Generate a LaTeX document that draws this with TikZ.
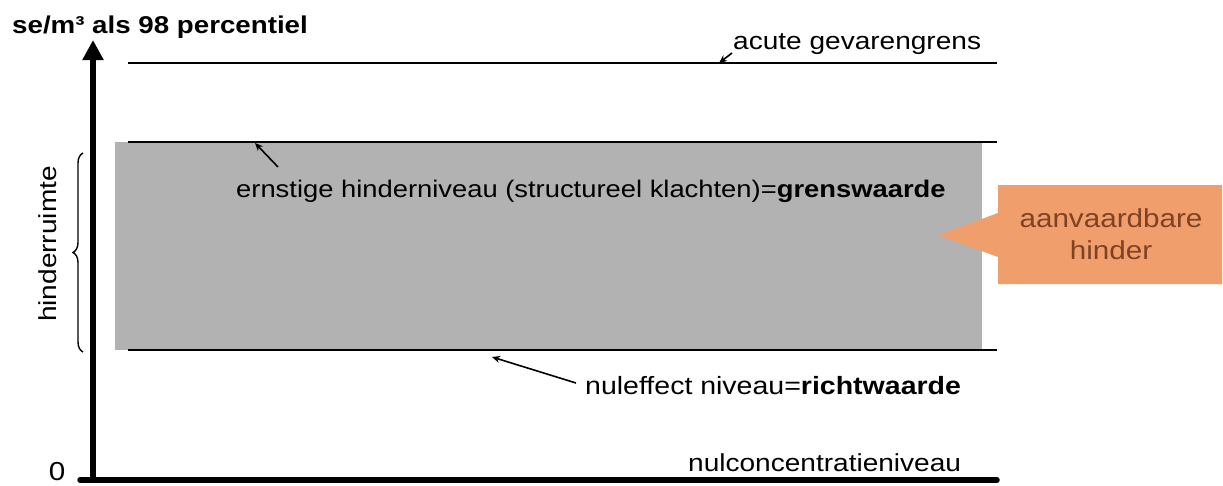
\documentclass[tikz,border=0pt]{standalone}
\usepackage{fontspec}
\setmainfont{Liberation Sans}[FakeStretch=1.14]
\usetikzlibrary{arrows.meta,decorations.pathreplacing}
\definecolor{bandgray}{RGB}{178,178,178}
\definecolor{calloutfill}{RGB}{240,158,108}
\definecolor{callouttext}{RGB}{128,66,36}
\begin{document}
\begin{tikzpicture}[x=1pt,y=-1pt,
  lbl/.style={inner sep=0pt, font=\fontsize{24.6}{28}\selectfont},
  level/.style={line width=2pt},
  axis/.style={line width=5.5pt},
  pointer/.style={line width=1.6pt,-{Stealth[length=8pt,width=7pt]}}]
\useasboundingbox (0,0) rectangle (1223,485);
% gray band
\fill[bandgray] (115,142) rectangle (982,350);
% level lines
\coordinate (acL) at (128,63); \coordinate (acR) at (997,63);
\coordinate (erL) at (128,142); \coordinate (erR) at (997,142);
\coordinate (nuL) at (128,350); \coordinate (nuR) at (997,350);
\draw[level] (acL) -- (acR);
\draw[level] (erL) -- (erR);
\draw[level] (nuL) -- (nuR);
% axes
\coordinate (orig) at (93,480);
\coordinate (ytop) at (93,40);
\coordinate (xend) at (997,480);
\coordinate (xstart) at (80,480);
\draw[axis,line cap=round] (xstart) -- (xend);
\draw[axis,-{Triangle[length=20pt,width=20pt]}] (orig) -- (ytop);
% labels
\node[lbl,anchor=base west,font=\bfseries\fontsize{24.3}{28}\selectfont] (title) at (12,33) {se/m³ als 98 percentiel};
\node[lbl,anchor=base,font=\fontsize{26}{30}\selectfont] (zero) at (57,480) {0};
\node[lbl,anchor=base west] (acute) at (733,49) {acute gevarengrens};
\node[lbl,anchor=base west,font=\fontsize{24}{28}\selectfont] (ernst) at (236,197) {ernstige hinderniveau (structureel klachten)=\textbf{grenswaarde}};
\node[lbl,anchor=base west,font=\fontsize{25}{28}\selectfont] (nuleff) at (585,394) {nuleffect niveau=\textbf{richtwaarde}};
\node[lbl,anchor=base west] (nulconc) at (688,471) {nulconcentratieniveau};
\node[lbl,rotate=90] (hinderruimte) at (48,244) {hinderruimte};
% brace
\coordinate (brT) at (83,153); \coordinate (brB) at (83,352);
\draw[line width=1.4pt,decorate,decoration={brace,amplitude=10pt}] (brB) -- (brT);
% pointers
\coordinate (acS) at (732,53); \coordinate (acT) at (719,63);
\coordinate (erS) at (278,167); \coordinate (erT) at (255,143);
\coordinate (nuS) at (576,383); \coordinate (nuT) at (492,357);
\draw[pointer] (acS) -- (acT);
\draw[pointer] (erS) -- (erT);
\draw[pointer] (nuS) -- (nuT);
% callout
\fill[calloutfill] (998,185) -- (1222,185) -- (1222,284) -- (998,284) -- (998,257) -- (938,235) -- (998,213) -- cycle;
\node[lbl,anchor=center,align=center,text=callouttext,font=\fontsize{26}{32}\selectfont] (callout) at (1111,234) {aanvaardbare\\hinder};
\end{tikzpicture}
\end{document}
